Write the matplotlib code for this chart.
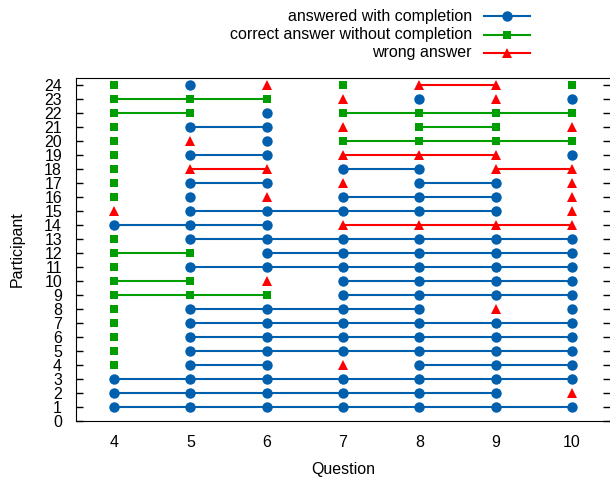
""" Participant answers per question """

from itertools import groupby
import matplotlib.pyplot as plt
from matplotlib.lines import Line2D

plt.rcParams.update({'font.size': 11.5, 'font.family': ['Liberation Sans', 'DejaVu Sans']})

# data

questions = [4, 5, 6, 7, 8, 9, 10]
participants = list(range(1, 25))

# one code per question: C = answered with completion,
# N = correct answer without completion, W = wrong answer
answers = [
    "CCCCCCC",  # 1
    "CCCCCCW",  # 2
    "CCCCCCC",  # 3
    "NCCWCCC",  # 4
    "NCCCCCC",  # 5
    "NCCCCCC",  # 6
    "NCCCCCC",  # 7
    "NCCCCWC",  # 8
    "NNNCCCC",  # 9
    "NNWCCCC",  # 10
    "NCCCCCC",  # 11
    "NNCCCCC",  # 12
    "NCCCCCC",  # 13
    "CCCWWWW",  # 14
    "WCCCCCW",  # 15
    "NCWCCCW",  # 16
    "NCCWCCW",  # 17
    "NWWCCWW",  # 18
    "NCCWWWC",  # 19
    "NWCNNNN",  # 20
    "NCCWNNW",  # 21
    "NNCNNNN",  # 22
    "NNNWCWC",  # 23
    "NCWNWWN",  # 24
]

categories = ["C", "N", "W"]
labels = ["answered with completion", "correct answer without completion", "wrong answer"]
colors = ["#0060ad", "#009e00", "#ff0000"]
markers = ["o", "s", "^"]
msizes = [7.5, 5.5, 6.5]

# figure design

fig = plt.figure(figsize=(6.1, 4.79), dpi=100)
ax = fig.add_axes([76/610, 1 - 421/479, (610 - 76)/610, (421 - 78)/479])
ax.set_xlim(3.5, 10.5)
ax.set_ylim(0, 24.5)
ax.set_xticks(questions)
ax.set_yticks(range(0, 25))
ax.tick_params(axis='y', direction='in', length=5, width=1, right=True, pad=10)
ax.tick_params(axis='x', length=0, pad=10)
ax.spines['right'].set_visible(False)
ax.set_xlabel('Question', labelpad=9)
ax.set_ylabel('Participant', labelpad=14)

# runs of identical answers are joined by a line

for k, cat in enumerate(categories):
    for p, row in zip(participants, answers):
        pos = 0
        for code, grp in groupby(row):
            n = len(list(grp))
            if code == cat:
                xs = questions[pos:pos + n]
                ax.plot(xs, [p] * n, color=colors[k], linewidth=1.5,
                        marker=markers[k], markersize=msizes[k],
                        markeredgewidth=0, zorder=2 + k, clip_on=False)
            pos += n

# legend (gnuplot style: text right-aligned, sample on the right)

for k in range(3):
    y = 1 - (16 + 18.5 * k) / 479
    fig.text(472/610, y, labels[k], ha='right', va='center')
    fig.add_artist(Line2D([484/610, 530/610], [y, y], transform=fig.transFigure,
                          color=colors[k], linewidth=1.5))
    fig.add_artist(Line2D([507/610], [y], transform=fig.transFigure,
                          color=colors[k], marker=markers[k], markersize=msizes[k],
                          markeredgewidth=0))

fig.savefig('out.png', dpi=100)
